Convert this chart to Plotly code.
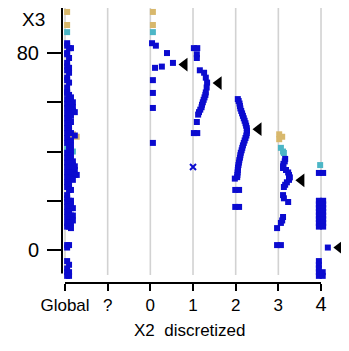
import numpy as np
import plotly.graph_objects as go

# ---------------- data ----------------
cat_labels = ["Global", "?", "0", "1", "2", "3", "4"]

# per X2 bin: X3 values, within-bin X2 position, colour group (0 blue, 1 teal, 2 gold)
c0_x3 = [96.7, 91.4, 88.5, 84.0, 83.0, 80.0, 76.0, 74.5, 74.0, 69.0, 63.8, 57.7, 43.5]
c0_x2 = [0.06, 0.06, 0.06, 0.04, 0.13, 0.39, 0.53, 0.27, 0.11, 0.06, 0.06, 0.06, 0.06]
c0_grp = [2, 2, 1, 0, 0, 0, 0, 0, 0, 0, 0, 0, 0]

c1_x3 = [82.0, 82.0, 79.5, 78.0, 73.0, 72.0, 70.0, 68.0, 66.0, 64.0, 63.0, 62.0, 61.0, 60.0,
         59.0, 58.0, 57.0, 56.0, 55.0, 52.0, 47.5, 47.5]
c1_x2 = [0.02, 0.10, 0.09, 0.09, 0.16, 0.26, 0.30, 0.33, 0.32, 0.30, 0.29, 0.27, 0.25, 0.23,
         0.21, 0.20, 0.17, 0.14, 0.12, 0.09, 0.02, 0.10]
c1_grp = [0] * len(c1_x3)

c2_x3 = [61.3, 60.5, 59.5, 58.5, 57.5, 56.5, 55.5, 54.5, 53.5, 52.5, 51.5, 50.5, 49.5, 48.5,
         47.5, 46.5, 45.5, 44.5, 43.5, 42.5, 41.5, 40.5, 39.5, 38.5, 37.5, 36.5, 35.5, 34.5,
         33.5, 32.5, 31.5, 30.5, 29.6, 29.0, 24.4, 24.4, 17.5, 17.5]
c2_x2 = [0.05, 0.07, 0.09, 0.10, 0.11, 0.13, 0.15, 0.17, 0.19, 0.21, 0.23, 0.245, 0.26, 0.265,
         0.26, 0.25, 0.23, 0.21, 0.19, 0.17, 0.155, 0.14, 0.12, 0.11, 0.10, 0.085, 0.075, 0.065,
         0.055, 0.05, 0.045, 0.04, 0.035, -0.02, -0.01, 0.08, -0.01, 0.08]
c2_grp = [0] * len(c2_x3)

c3_x3 = [47.0, 45.0, 46.0, 41.5, 40.0, 39.4, 37.0, 36.0, 35.0, 34.0, 33.3, 32.5, 31.5, 30.5,
         29.5, 28.5, 27.5, 26.5, 25.6, 22.3, 21.0, 19.5, 13.4, 12.0, 11.0, 8.9, 2.0, 2.0]
c3_x2 = [0.02, 0.02, 0.09, 0.06, 0.11, 0.13, 0.16, 0.15, 0.12, 0.11, 0.11, 0.18, 0.23, 0.25,
         0.27, 0.25, 0.20, 0.16, 0.13, 0.11, 0.13, 0.23, 0.11, 0.09, 0.06, -0.03, -0.03, 0.06]
c3_grp = [2, 2, 2, 1, 1, 1] + [0] * (len(c3_x3) - 6)

c4_x3 = [34.5, 31.3, 31.3, 20.0, 18.5, 17.0, 15.5, 14.0, 12.5, 11.0, 9.5,
         20.0, 18.5, 17.0, 15.5, 14.0, 12.5, 11.0, 9.5, 1.0,
         -4.5, -6.0, -7.5, -9.0, -10.5, -10.5, -9.0]
c4_x2 = [-0.02, -0.05, 0.05, -0.05, -0.05, -0.05, -0.05, -0.05, -0.05, -0.05, -0.05,
         0.05, 0.05, 0.05, 0.05, 0.05, 0.05, 0.05, 0.05, 0.16,
         -0.05, -0.05, -0.05, -0.05, -0.05, 0.04, 0.04]
c4_grp = [1] + [0] * (len(c4_x3) - 1)

# outlier drawn with an x marker in bin "1"
x_mark_x3 = [33.7]

# summary triangles (one per bin 0..4)
tri_x3 = [75.3, 67.8, 49.1, 28.3, 1.0]

# ---------------- figure ----------------
colors = {0: "#0b0bcf", 1: "#4cb6c6", 2: "#d8b86c"}
cols = [(2, c0_x3, c0_x2, c0_grp), (3, c1_x3, c1_x2, c1_grp), (4, c2_x3, c2_x2, c2_grp),
        (5, c3_x3, c3_x2, c3_grp), (6, c4_x3, c4_x2, c4_grp)]

fig = go.Figure()

# gridlines
for c in range(0, 7):
    fig.add_shape(type="line", xref="x", yref="y", x0=c, x1=c, y0=98.3, y1=-10.2,
                  line=dict(color="#d2d2d2", width=1.6), layer="below")

# Global column: all X3 values stacked by density (coloured points stacked first,
# blue ones drawn afterwards on top)
all_v, all_g = [], []
for _, v, _, g in cols:
    all_v += v
    all_g += g
all_v += x_mark_x3
all_g += [0]
order = sorted(range(len(all_v)), key=lambda i: (-all_v[i], all_g[i] == 0))
counts = {}
pts = []
for i in order:
    b = int(np.floor(all_v[i] / 2.0))
    k = counts.get(b, 0)
    counts[b] = k + 1
    pts.append((0.05 + 0.045 * k, all_v[i], all_g[i]))
pts.sort(key=lambda p: p[2] == 0)
fig.add_trace(go.Scatter(x=[p[0] for p in pts], y=[p[1] for p in pts], mode="markers",
                         marker=dict(symbol="square", size=6, color=[colors[p[2]] for p in pts],
                                     line=dict(width=0)),
                         hoverinfo="skip", showlegend=False))

tri_x = []
for pos, v, o, g in cols:
    xs = [pos + oo for oo in o]
    fig.add_trace(go.Scatter(x=xs, y=v, mode="markers",
                             marker=dict(symbol="square", size=6, color=[colors[q] for q in g],
                                         line=dict(width=0)),
                             hoverinfo="skip", showlegend=False))
    tri_x.append(pos + max(o) + 0.27)

fig.add_trace(go.Scatter(x=[3 + 0.0], y=x_mark_x3, mode="markers",
                         marker=dict(symbol="x-thin", size=6, color=colors[0],
                                     line=dict(width=2, color=colors[0])),
                         hoverinfo="skip", showlegend=False))

fig.add_trace(go.Scatter(x=tri_x, y=tri_x3, mode="markers",
                         marker=dict(symbol="triangle-left", size=12, color="black"),
                         hoverinfo="skip", showlegend=False))

# axis lines (range frame)
fig.add_shape(type="line", xref="paper", yref="y", x0=0, x1=0, y0=98.3, y1=-9.5,
              line=dict(color="black", width=2))
fig.add_shape(type="line", xref="x", yref="paper", x0=0, x1=6, y0=0, y1=0,
              line=dict(color="black", width=2))

font = "Liberation Sans, Arial, sans-serif"
ticktext = cat_labels[:-1] + ["<span style='font-size:20px'>4</span>"]

fig.update_layout(
    width=349, height=351,
    margin=dict(l=54, r=10, t=0, b=76),
    paper_bgcolor="white", plot_bgcolor="white",
    font=dict(family=font, color="black"),
    xaxis=dict(range=[-0.0703, 6.609], showgrid=False, zeroline=False, showline=False,
               tickmode="array", tickvals=list(range(7)), ticktext=ticktext,
               ticks="outside", ticklen=7, tickwidth=2, tickcolor="black",
               tickfont=dict(size=17, family=font), fixedrange=True, automargin=False),
    yaxis=dict(range=[-13.4, 98.3], showgrid=False, zeroline=False, showline=False,
               tickmode="array", tickvals=[0, 20, 40, 60, 80], ticktext=["0", "", "", "", "80"],
               ticks="outside", ticklen=14, tickwidth=2, tickcolor="black",
               tickfont=dict(size=20, family=font), ticklabelstandoff=4, fixedrange=True,
               automargin=False),
    annotations=[
        dict(text="X3", xref="paper", yref="paper", x=-0.10, y=0.958, showarrow=False,
             font=dict(size=19, family=font), xanchor="center", yanchor="middle",
             borderpad=0),
        dict(text="X2\u00a0\u00a0discretized", xref="paper", yref="paper", x=0.45, y=-0.171,
             showarrow=False, font=dict(size=17, family=font), xanchor="center", yanchor="middle"),
    ],
)

fig.write_html("out.html")
